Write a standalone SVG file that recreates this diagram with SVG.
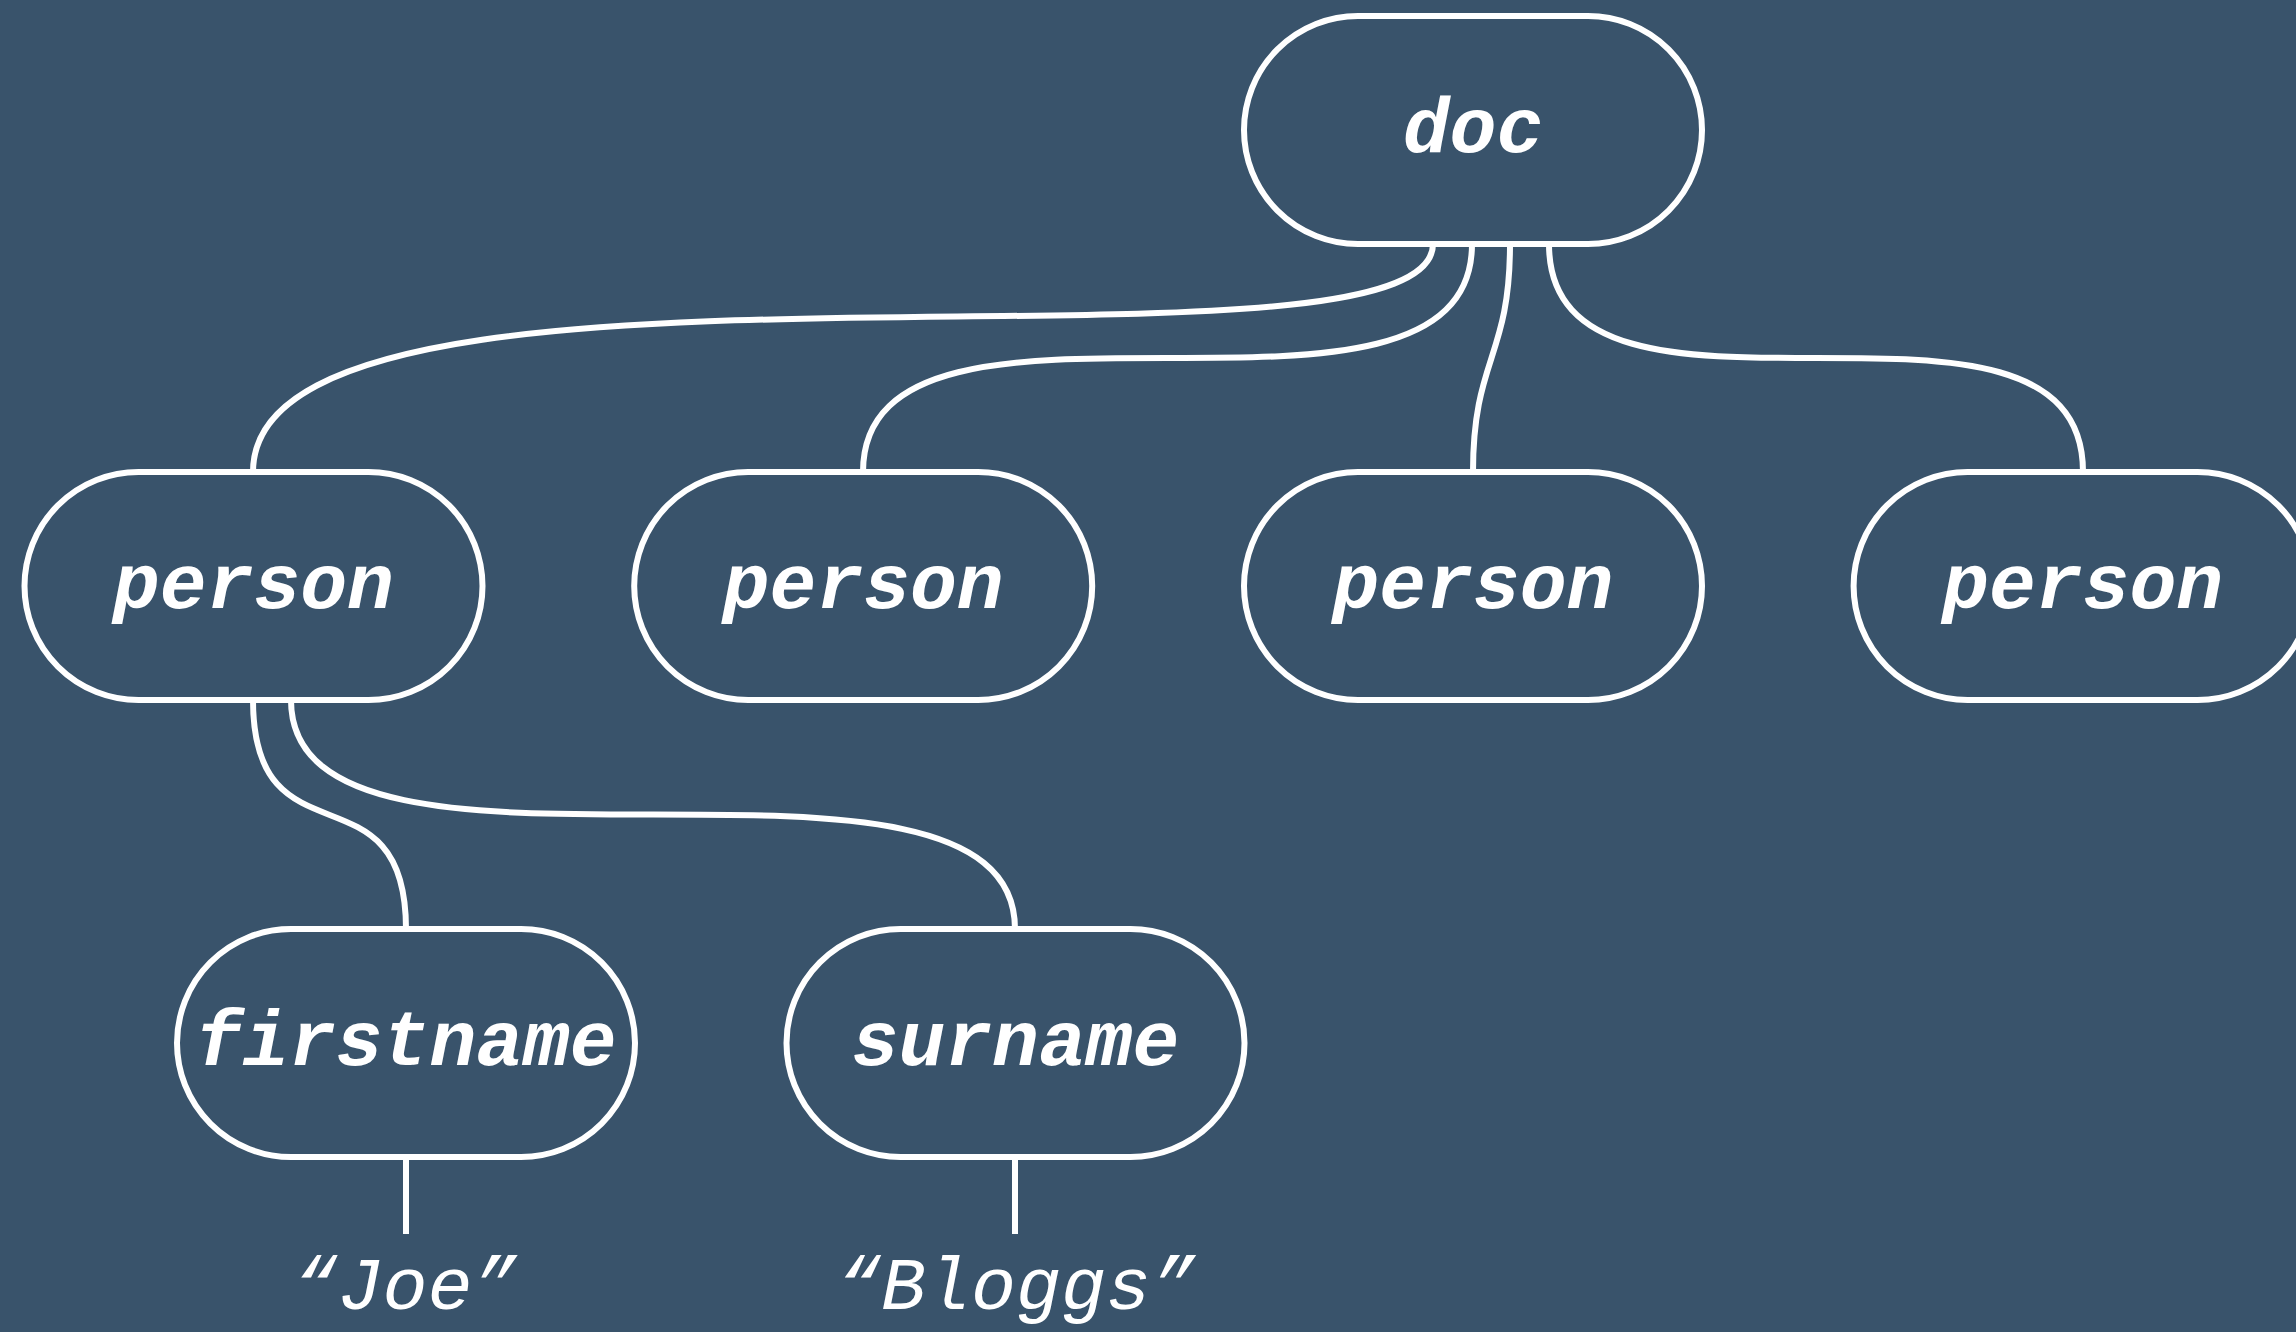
<svg xmlns="http://www.w3.org/2000/svg" width="2296" height="1332" viewBox="0 0 2296 1332">
  <style>
    .bg { fill: #39536b; }
    .node rect { fill: #39536b; stroke: #ffffff; stroke-width: 6; }
    .node text { fill: #ffffff; font-family: "Liberation Mono", "DejaVu Sans Mono", monospace; font-weight: bold; font-style: italic; font-size: 78px; text-anchor: middle; }
    .links path { fill: none; stroke: #ffffff; stroke-width: 6; }
    .value { fill: #ffffff; font-family: "Liberation Mono", "DejaVu Sans Mono", monospace; font-style: italic; font-size: 75px; text-anchor: middle; }
  </style>
  <rect class="bg" x="0" y="0" width="2296" height="1332"/>

  <!-- tree edges, drawn beneath the nodes -->
  <g id="connectors" class="links">
    <path d="M1433,244 C1433,400 253,209 253,472"/>
    <path d="M1472,244 C1472,472 863,244 863,472"/>
    <path d="M1510,244 C1510,358 1473,358 1473,472"/>
    <path d="M1549,244 C1549,472 2083,244 2083,472"/>
    <path d="M253,700 C253,870 406,760 406,929"/>
    <path d="M291,700 C291,929 1015,700 1015,929"/>
    <path d="M406,1157 L406,1234"/>
    <path d="M1015,1157 L1015,1234"/>
  </g>

  <g id="doc" class="node">
    <rect x="1244" y="16" width="458" height="228" rx="114" ry="114"/>
    <text x="1473" y="152">doc</text>
  </g>

  <g id="person1" class="node">
    <rect x="24.5" y="472" width="458" height="228" rx="114" ry="114"/>
    <text x="253.5" y="608">person</text>
  </g>
  <g id="person2" class="node">
    <rect x="634.2" y="472" width="458" height="228" rx="114" ry="114"/>
    <text x="863.2" y="608">person</text>
  </g>
  <g id="person3" class="node">
    <rect x="1244" y="472" width="458" height="228" rx="114" ry="114"/>
    <text x="1473" y="608">person</text>
  </g>
  <g id="person4" class="node">
    <rect x="1853.6" y="472" width="458" height="228" rx="114" ry="114"/>
    <text x="2082.6" y="608">person</text>
  </g>

  <g id="firstname" class="node">
    <rect x="177" y="929" width="458" height="228" rx="114" ry="114"/>
    <text x="406" y="1065">firstname</text>
  </g>
  <g id="surname" class="node">
    <rect x="786.5" y="929" width="458" height="228" rx="114" ry="114"/>
    <text x="1015.5" y="1065">surname</text>
  </g>

  <g id="values">
    <text class="value" x="405" y="1309">“Joe”</text>
    <text class="value" x="1016" y="1309">“Bloggs”</text>
  </g>
</svg>
